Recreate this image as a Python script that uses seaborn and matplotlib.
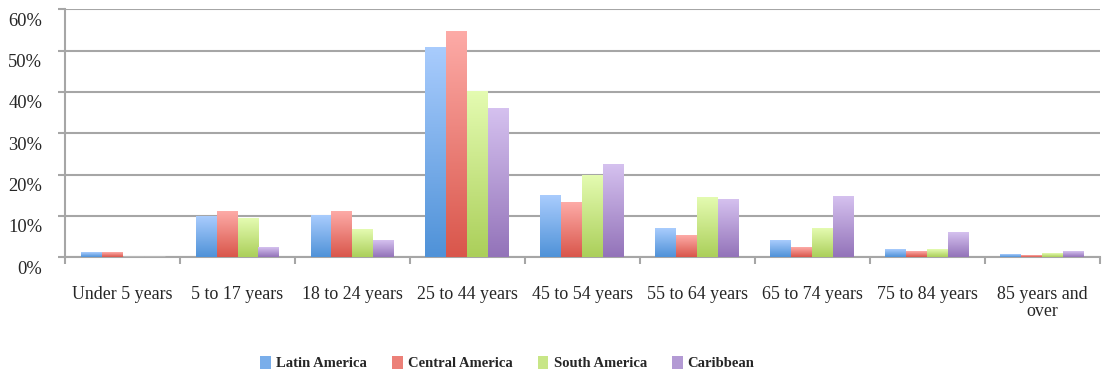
import numpy as np
import pandas as pd
import matplotlib
matplotlib.use('Agg')
import matplotlib.pyplot as plt
import matplotlib.transforms as mtransforms
from matplotlib.colors import LinearSegmentedColormap
from matplotlib.patches import Patch
import seaborn as sns

# ── data (share of population, %) ────────────────────────────────
age_groups = ['Under 5 years', '5 to 17 years', '18 to 24 years', '25 to 44 years',
              '45 to 54 years', '55 to 64 years', '65 to 74 years', '75 to 84 years',
              '85 years and over']
tick_labels = ['Under 5 years', '5 to 17 years', '18 to 24 years', '25 to 44 years',
               '45 to 54 years', '55 to 64 years', '65 to 74 years', '75 to 84 years',
               '85 years and\nover']
regions = ['Latin America', 'Central America', 'South America', 'Caribbean']

latin_america = [1.1, 9.8, 10.0, 50.7, 14.8, 6.9, 3.9, 1.8, 0.55]
central_america = [1.1, 11.0, 11.0, 54.6, 13.1, 5.2, 2.3, 1.3, 0.3]
south_america = [0.0, 9.3, 6.6, 40.0, 19.7, 14.4, 6.9, 1.8, 0.8]
caribbean = [0.0, 2.3, 4.0, 35.9, 22.3, 13.9, 14.6, 5.9, 1.3]

# top / bottom colours of the gradient fill
top_colors = ['#a9ccfd', '#fdaba7', '#e4fbb1', '#d5c1ef']
bottom_colors = ['#4f92d8', '#d9564b', '#abcf5a', '#9373b9']

rows = []
for region, vals in zip(regions, [latin_america, central_america, south_america, caribbean]):
    for age, v in zip(age_groups, vals):
        rows.append({'age': age, 'region': region, 'share': v / 100})
df = pd.DataFrame(rows)

sns.set_theme(style='white')
plt.rcParams['font.family'] = ['Liberation Serif', 'DejaVu Serif']

fig = plt.figure(figsize=(11.03, 3.77), dpi=100)
ax = fig.add_axes([0.059, 0.318, 0.938, 0.657])

sns.barplot(data=df, x='age', y='share', hue='region', order=age_groups,
            hue_order=regions, palette=top_colors, width=0.73, ax=ax,
            legend=False, zorder=3)

# gradient fill on every bar
for cont, c_top, c_bot in zip(ax.containers, top_colors, bottom_colors):
    cmap = LinearSegmentedColormap.from_list('g', [c_bot, c_top])
    for bar in cont:
        h = bar.get_height()
        if h <= 0:
            continue
        x0 = bar.get_x()
        w = bar.get_width()
        ax.imshow(np.linspace(0, 1, 128).reshape(-1, 1), cmap=cmap, origin='lower',
                  aspect='auto', extent=[x0, x0 + w, 0, h], zorder=4)
        bar.set_alpha(0)

ax.set_xlim(-0.5, len(age_groups) - 0.5)
ax.set_ylim(0, 0.6)
ax.set_yticks(np.arange(0, 0.61, 0.1))
ax.set_yticklabels([f'{int(round(t * 100))}%' for t in np.arange(0, 0.61, 0.1)], fontsize=13.3)
ax.set_xticks(range(len(age_groups)))
ax.set_xticklabels(tick_labels, fontsize=12.9, va='top', linespacing=1.0)
ax.set_xticks(np.arange(-0.5, len(age_groups), 1), minor=True)
ax.tick_params(axis='x', which='major', length=0, pad=21)
ax.tick_params(axis='x', which='minor', length=5, width=1.5, color='#a6a6a6', direction='out', bottom=True)
ax.tick_params(axis='y', length=5, width=1.5, color='#a6a6a6', direction='out', left=True, pad=11.5)

# Excel draws the y labels a little below their gridlines
offset = mtransforms.ScaledTranslation(0, -10 / 100, fig.dpi_scale_trans)
for lab in ax.get_yticklabels():
    lab.set_transform(lab.get_transform() + offset)

ax.set_xlabel('')
ax.set_ylabel('')
ax.yaxis.grid(True, color='#a6a6a6', linewidth=1.5, zorder=0)
ax.set_axisbelow(True)
for side in ['top', 'right']:
    ax.spines[side].set_visible(False)
for side in ['left', 'bottom']:
    ax.spines[side].set_color('#a6a6a6')
    ax.spines[side].set_linewidth(1.5)

handles = [Patch(facecolor=c, edgecolor='none') for c in
           ['#7aaeea', '#ec8078', '#c8e687', '#b39ad4']]
fig.legend(handles, regions, loc='center', bbox_to_anchor=(0.46, 0.037), ncol=4,
           frameon=False, handlelength=0.75, handleheight=1.0, handletextpad=0.35,
           columnspacing=1.7, prop={'weight': 'bold', 'size': 10.5})

fig.savefig('out.png', dpi=100)
plt.close()
